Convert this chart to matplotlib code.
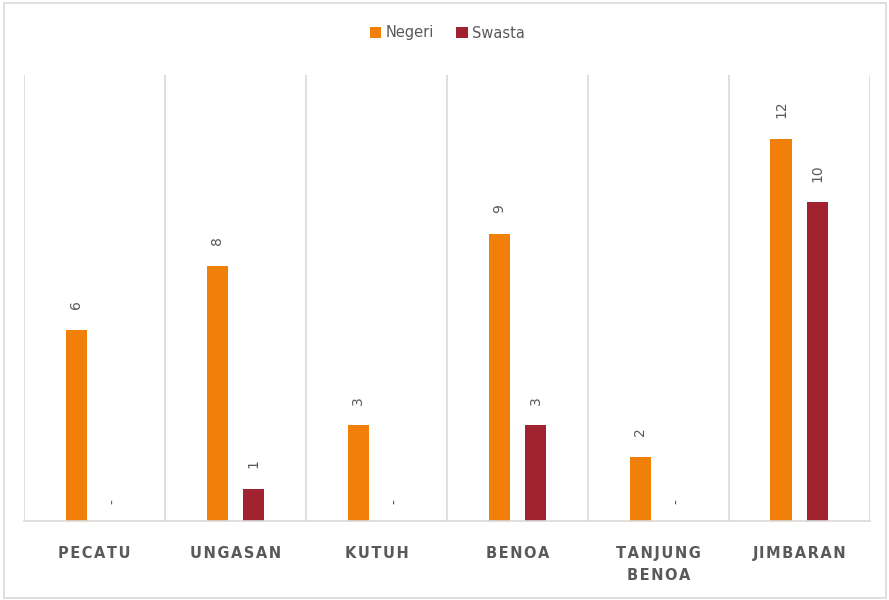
import matplotlib.pyplot as plt
import numpy as np
from matplotlib.patches import Rectangle

# data
categories = ['PECATU', 'UNGASAN', 'KUTUH', 'BENOA', 'TANJUNG\nBENOA', 'JIMBARAN']
negeri = [6, 8, 3, 9, 2, 12]
swasta = [0, 1, 0, 3, 0, 10]

orange = '#F0800A'
red = '#A0232F'
grey_txt = '#595959'
grid_c = '#D9D9D9'


def spaced(s):
    # fake letter spacing with hair spaces
    return '\n'.join('\u200a'.join(line) for line in s.split('\n'))


fig = plt.figure(figsize=(8.89, 6.0), dpi=100)
ax = fig.add_axes([0.027, 0.1317, 0.9515, 0.7433])

x = np.arange(len(categories))
w = 0.15
off = 0.13
b1 = ax.bar(x - off, negeri, w, color=orange, label='Negeri')
b2 = ax.bar(x + off, swasta, w, color=red, label='Swasta')

# value labels, rotated like the original
for bars, vals in [(b1, negeri), (b2, swasta)]:
    for r, v in zip(bars, vals):
        txt = str(v) if v else '-'
        ax.annotate(txt, (r.get_x() + r.get_width() / 2, r.get_height()),
                    xytext=(0, 15 if v else 12), textcoords='offset points',
                    ha='center', va='bottom', rotation=90,
                    fontsize=10, color=grey_txt)

ax.set_xlim(-0.5, len(categories) - 0.5)
ax.set_ylim(0, 14)
ax.set_yticks([])
ax.set_xticks(x)
ax.set_xticklabels([spaced(c) for c in categories], fontsize=10.5,
                   fontweight='bold', color=grey_txt, linespacing=1.6)
ax.tick_params(axis='x', length=0, pad=18)

# vertical separators between categories
for b in np.arange(-0.5, len(categories), 1.0):
    ax.axvline(b, color=grid_c, lw=1.2, zorder=0)
for s in ['top', 'left', 'right']:
    ax.spines[s].set_visible(False)
ax.spines['bottom'].set_color(grid_c)
ax.spines['bottom'].set_linewidth(1.2)

leg = fig.legend(loc='center', bbox_to_anchor=(0.503, 0.945), ncol=2,
                 frameon=False, fontsize=10.5, handlelength=0.8,
                 handleheight=0.8, handletextpad=0.3, columnspacing=1.5)
for t in leg.get_texts():
    t.set_color(grey_txt)

# outer chart border
fig.patches.append(Rectangle((0.005, 0.004), 0.992, 0.991, transform=fig.transFigure,
                             fill=False, edgecolor=grid_c, lw=1.2))

fig.savefig('out.png', dpi=100)
